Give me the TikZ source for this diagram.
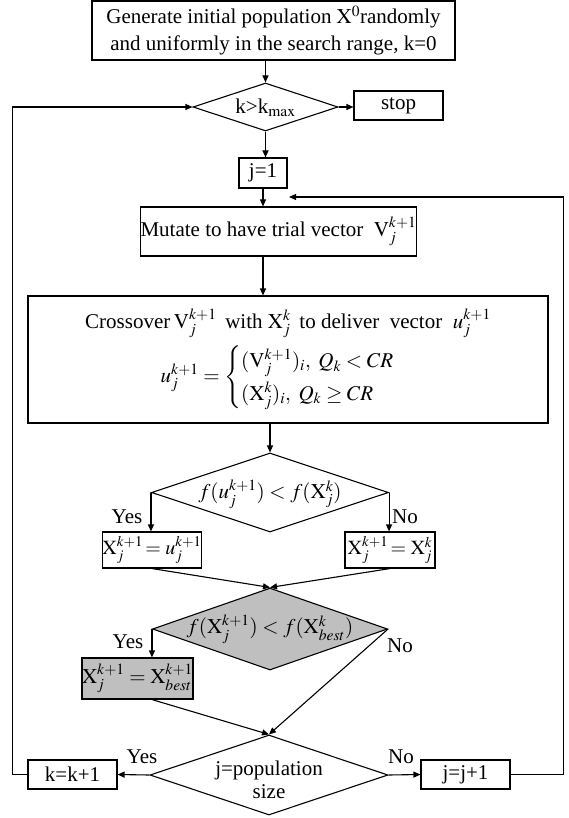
\documentclass[tikz,border=0pt]{standalone}
\usepackage{amsmath}
\usepackage{mathptmx}
\usepackage{fontspec}
\setmainfont{Liberation Serif}
\definecolor{fcgray}{RGB}{191,191,191}
\usetikzlibrary{arrows.meta,shapes.geometric,calc}
\newcommand{\figfont}{\fontsize{21}{27}\selectfont}

\begin{document}
\begin{tikzpicture}[x=1pt, y=-1pt,
  pbox/.style={rectangle, draw, line width=1.1pt, inner sep=0pt,
               font=\figfont, align=center},
  dbox/.style={diamond, draw, line width=1.1pt, inner sep=0pt,
               minimum width=238pt, minimum height=80pt},
  dtxt/.style={inner sep=0pt, font=\figfont, align=center},
  lbl/.style={inner sep=0pt, font=\figfont},
  farr/.style={-{Triangle[length=7pt, width=6pt]}, line width=1.1pt}
]
\useasboundingbox (0,0) rectangle (568,818);

% Start and outer test
\node[pbox, minimum width=363pt, minimum height=59pt] (init) at (273.5,30.5)
  {Generate initial population $\mathrm{X}^0$randomly\\and uniformly in the search range, k=0};
\node[dbox, minimum width=145pt, minimum height=48pt] (chk) at (265.5,107) {};
\node[dtxt] (chkt) at (265.5,108) {k>k$_{\mathrm{max}}$};
\node[pbox, minimum width=89pt, minimum height=29pt] (stop) at (398.5,105.5) {stop};
\node[pbox, minimum width=48pt, minimum height=30pt] (jone) at (263,173) {j=1};

% Mutation and crossover
\node[pbox, minimum width=275pt, minimum height=49pt] (mut) at (278.5,231.5)
  {Mutate to have trial vector~ $\mathrm{V}_j^{k+1}$};
\node[pbox, minimum width=520pt, minimum height=127pt] (cross) at (288,359.5)
  {Crossover\,$\mathrm{V}_j^{k+1}$\, with $\mathrm{X}_j^k$\, to deliver~ vector~ $u_j^{k+1}$\\[6pt]
   $u_j^{k+1}=\begin{cases}(\mathrm{V}_j^{k+1})_i,~ Q_k<CR\\ (\mathrm{X}_j^k)_i,~ Q_k\geq CR\end{cases}$};

% Selection
\node[dbox, minimum width=237pt, minimum height=79pt] (sel) at (270,492.5) {};
\node[dtxt] (selt) at (270,494) {$f(u_j^{k+1})<f(\mathrm{X}_j^k)$};
\node[pbox, minimum width=98pt, minimum height=36pt, font=\fontsize{20}{24}\selectfont] (ytak) at (152,550)
  {$\mathrm{X}_j^{k+1}\!=u_j^{k+1}$};
\node[pbox, minimum width=90pt, minimum height=36pt, font=\fontsize{20}{24}\selectfont] (nkeep) at (390,550)
  {$\mathrm{X}_j^{k+1}\!=\mathrm{X}_j^k$};

% Best update
\node[dbox, fill=fcgray, minimum width=235pt, minimum height=82pt] (best) at (270,629) {};
\node[dtxt] (bestt) at (270,629) {$f(\mathrm{X}_j^{k+1})<f(\mathrm{X}_{best}^k)$};
\node[pbox, fill=fcgray, minimum width=109pt, minimum height=41pt] (upd) at (137.5,678.5)
  {$\mathrm{X}_j^{k+1}=\mathrm{X}_{best}^{k+1}$};

% Loop test
\node[dbox, minimum width=238pt, minimum height=80pt] (pop) at (269,775) {};
\node[dtxt, font=\fontsize{21}{23}\selectfont] (popt) at (269,780) {j=population\\size};
\node[pbox, minimum width=89pt, minimum height=29pt] (kinc) at (72.5,774.5) {k=k+1};
\node[pbox, minimum width=89pt, minimum height=29pt] (jinc) at (465.5,774.5) {j=j+1};
\coordinate (ret) at (289,197);

% Yes / No labels
\node[lbl] (y1) at (127,517) {Yes};
\node[lbl] (n1) at (405,517) {No};
\node[lbl] (y2) at (128,642) {Yes};
\node[lbl] (n2) at (400,646) {No};
\node[lbl] (y3) at (142,757) {Yes};
\node[lbl] (n3) at (401,757) {No};

% Arrows
\draw[farr] (init.south -| chk.north) -- (chk.north);
\draw[farr] (chk.east) -- (chk.east -| stop.west);
\draw[farr] (chk.south) -- (chk.south |- jone.north);
\draw[farr] (jone.south) -- (jone.south |- mut.north);
\draw[farr] (jone.south |- mut.south) -- (jone.south |- cross.north);
\draw[farr] (sel.north |- cross.south) -- (sel.north);
\draw[farr] (sel.west) -- (sel.west |- ytak.north);
\draw[farr] (sel.east) -- (sel.east |- nkeep.north);
\draw[farr] (ytak.south) -- (best.north);
\draw[farr] (nkeep.south) -- (best.north);
\draw[farr] (best.west) -- (best.west |- upd.north);
\draw[farr] (upd.south -| best.west) -- (pop.north);
\draw[farr] (best.east) -- (pop.north);
\draw[farr] (pop.west) -- (kinc.east);
\draw[farr] (pop.east) -- (jinc.west);
\draw[farr] (kinc.west) -- ++(-15,0) |- (chk.west);
\draw[farr] (jinc.east) -- ++(53,0) |- (ret);
\end{tikzpicture}
\end{document}
